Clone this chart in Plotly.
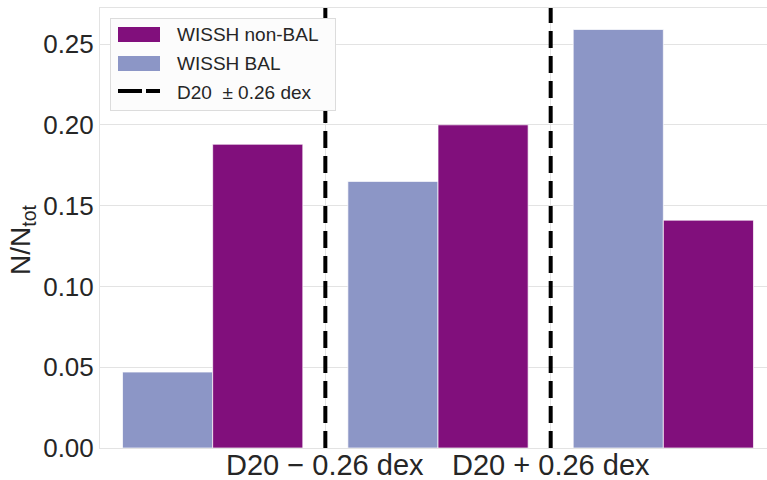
import plotly.graph_objects as go

# Three D20-offset bins: below, within, above
groups = [0, 1, 2]
bal_frac = [0.047, 0.165, 0.259]
nonbal_frac = [0.188, 0.200, 0.141]
boundary_x = [0.5, 1.5]
tick_labels = ["D20 \u2212 0.26 dex", "D20 + 0.26 dex"]
y_ticks = [0.00, 0.05, 0.10, 0.15, 0.20, 0.25]

BAL_COLOR = "#8C96C6"
NONBAL_COLOR = "#810F7C"
FONT = "Liberation Sans, Arial, sans-serif"
TXT = "#262626"

W, H = 767, 480
ML, MR, MT, MB = 100, 0, 8, 32
PW, PH = W - ML - MR, H - MT - MB
Y_TOP = 0.2723


def px(x):
    return (x - ML) / PW


def py(y):
    return (H - MB - y) / PH


fig = go.Figure()

fig.add_trace(go.Bar(
    x=groups, y=bal_frac, name="WISSH BAL", showlegend=False,
    marker=dict(color=BAL_COLOR, line=dict(color="rgba(255,255,255,0.7)", width=1)),
))
fig.add_trace(go.Bar(
    x=groups, y=nonbal_frac, name="WISSH non-BAL", showlegend=False,
    marker=dict(color=NONBAL_COLOR, line=dict(color="rgba(255,255,255,0.7)", width=1)),
))

# Bin boundaries as dashed vertical lines
lx, ly = [], []
for b in boundary_x:
    lx += [b, b, None]
    ly += [0, Y_TOP, None]
fig.add_trace(go.Scatter(
    x=lx, y=ly, mode="lines", name="D20 \u00b1 0.26 dex", showlegend=False,
    line=dict(color="black", width=4, dash="17px,8px"), hoverinfo="skip",
))


def block(cx, cy, w, h, color, border=None):
    """Solid box on the annotation layer (drawn above all traces)."""
    return dict(
        text=" ", x=px(cx), y=py(cy), xref="paper", yref="paper",
        xanchor="center", yanchor="middle", showarrow=False,
        width=w, height=h, borderpad=0, bgcolor=color,
        bordercolor=border or color, borderwidth=1 if border else 0,
        font=dict(size=1),
    )


# Hand-built legend: frame, swatches, labels
annotations = [
    block(222.5, 64, 224, 91, "#fcfcfc", border="#dcdcdc"),
    block(139, 34, 42, 15, NONBAL_COLOR),
    block(139, 63, 42, 15, BAL_COLOR),
    block(130, 91, 24, 4, "black"),
    block(153, 91, 14, 4, "black"),
]
legend_labels = [("WISSH non-BAL", 34), ("WISSH BAL", 63),
                 ("D20\u00a0\u00a0\u00b1 0.26 dex", 92)]
annotations += [
    dict(text=t, x=px(175), y=py(yy), xref="paper", yref="paper",
         xanchor="left", yanchor="middle", showarrow=False,
         font=dict(size=19, color=TXT, family=FONT))
    for t, yy in legend_labels
]
# x tick labels at the bin boundaries
for b, t in zip(boundary_x, tick_labels):
    annotations.append(dict(
        text=t, x=b, xref="x", y=py(465), yref="paper",
        xanchor="center", yanchor="middle", showarrow=False,
        font=dict(size=29, color=TXT, family=FONT),
    ))
# y-axis label
annotations.append(dict(
    text="N/N<sub>tot</sub>", x=px(22), y=py(240), xref="paper", yref="paper",
    xanchor="center", yanchor="middle", textangle=-90, showarrow=False,
    font=dict(size=28, color=TXT, family=FONT),
))

fig.update_layout(
    width=W, height=H,
    margin=dict(l=ML, r=MR, t=MT, b=MB, autoexpand=False),
    paper_bgcolor="white", plot_bgcolor="white",
    barmode="group", bargap=0.2, bargroupgap=0,
    font=dict(family=FONT, color=TXT),
    showlegend=False,
    annotations=annotations,
    xaxis=dict(
        range=[-0.5, 2.46], tickvals=boundary_x, showticklabels=False,
        showgrid=True, gridcolor="#e3e3e3",
        zeroline=False, showline=True, linecolor="#e3e3e3", mirror=True, ticks="",
        automargin=False,
    ),
    yaxis=dict(
        range=[0, Y_TOP], tickvals=y_ticks, tickformat=".2f",
        tickfont=dict(size=26, color=TXT), showgrid=True, gridcolor="#e3e3e3",
        zeroline=False, showline=True, linecolor="#e3e3e3", mirror=True, ticks="",
        automargin=False,
    ),
)

fig.write_html("out.html")
